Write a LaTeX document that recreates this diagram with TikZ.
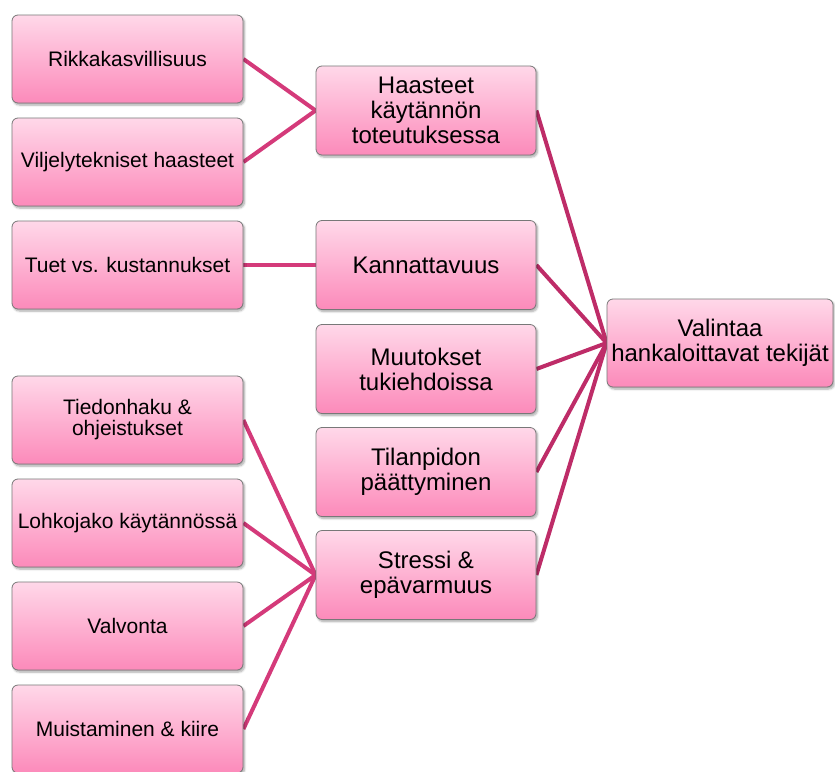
\documentclass[tikz,border=0pt]{standalone}
\usepackage{fontspec}
\setmainfont{Liberation Sans}
\usepackage{tikz}
\usetikzlibrary{positioning, shadows.blur, backgrounds}
\definecolor{pinktop}{RGB}{255, 216, 233}
\definecolor{pinkbottom}{RGB}{252, 138, 186}
\definecolor{boxedge}{RGB}{120, 120, 120}
\definecolor{linkleft}{RGB}{212, 58, 122}
\definecolor{linkright}{RGB}{190, 44, 104}

\begin{document}
\begin{tikzpicture}[x=1pt, y=-1pt,
    pinkbox/.style={rectangle, draw=boxedge, line width=0.8pt, rounded corners=6pt,
        top color=pinktop, bottom color=pinkbottom, align=center, inner sep=0pt,
        blur shadow={shadow xshift=1.5pt, shadow yshift=-2pt, shadow blur steps=6, shadow opacity=35}},
    leafbox/.style={pinkbox, minimum width=231pt, minimum height=88pt, font=\fontsize{21}{21}\selectfont},
    groupbox/.style={pinkbox, minimum width=220pt, minimum height=89pt, font=\fontsize{24}{25}\selectfont},
    rootbox/.style={pinkbox, minimum width=226pt, minimum height=88pt, font=\fontsize{24}{25}\selectfont},
    linkl/.style={draw=linkleft, line width=4pt},
    linkr/.style={draw=linkright, line width=4pt}]
        \useasboundingbox (0,0) rectangle (835,771);

        % left column
        \node [leafbox] (weeds) at (127.5,59) {Rikkakasvillisuus};
        \node [leafbox] (tech) at (127.5,162) {Viljelytekniset haasteet};
        \node [leafbox] (costs) at (127.5,265) {Tuet vs. kustannukset};
        \node [leafbox] (info) at (127.5,420) {Tiedonhaku \&\\ohjeistukset};
        \node [leafbox] (parcels) at (127.5,523) {Lohkojako käytännössä};
        \node [leafbox] (control) at (127.5,626) {Valvonta};
        \node [leafbox] (rush) at (127.5,729) {Muistaminen \& kiire};

        % middle column
        \node [groupbox] (practice) at (426,110.5) {Haasteet\\käytännön\\toteutuksessa};
        \node [groupbox] (profit) at (426,265) {Kannattavuus};
        \node [groupbox] (terms) at (426,369) {Muutokset\\tukiehdoissa};
        \node [groupbox] (ending) at (426,472) {Tilanpidon\\päättyminen};
        \node [groupbox] (stress) at (426,575) {Stressi \&\\epävarmuus};

        % right
        \node [rootbox] (root) at (720,343) {Valintaa\\hankaloittavat tekijät};

        \begin{scope}[on background layer]
            \draw [linkl] (weeds.east) -- (practice.west);
            \draw [linkl] (tech.east) -- (practice.west);
            \draw [linkl] (costs.east) -- (profit.west);
            \foreach \leaf in {info, parcels, control, rush}
                \draw [linkl] (\leaf.east) -- (stress.west);
            \foreach \group in {practice, profit, terms, ending, stress}
                \draw [linkr] (\group.east) -- (root.west);
        \end{scope}
    \end{tikzpicture}
\end{document}
